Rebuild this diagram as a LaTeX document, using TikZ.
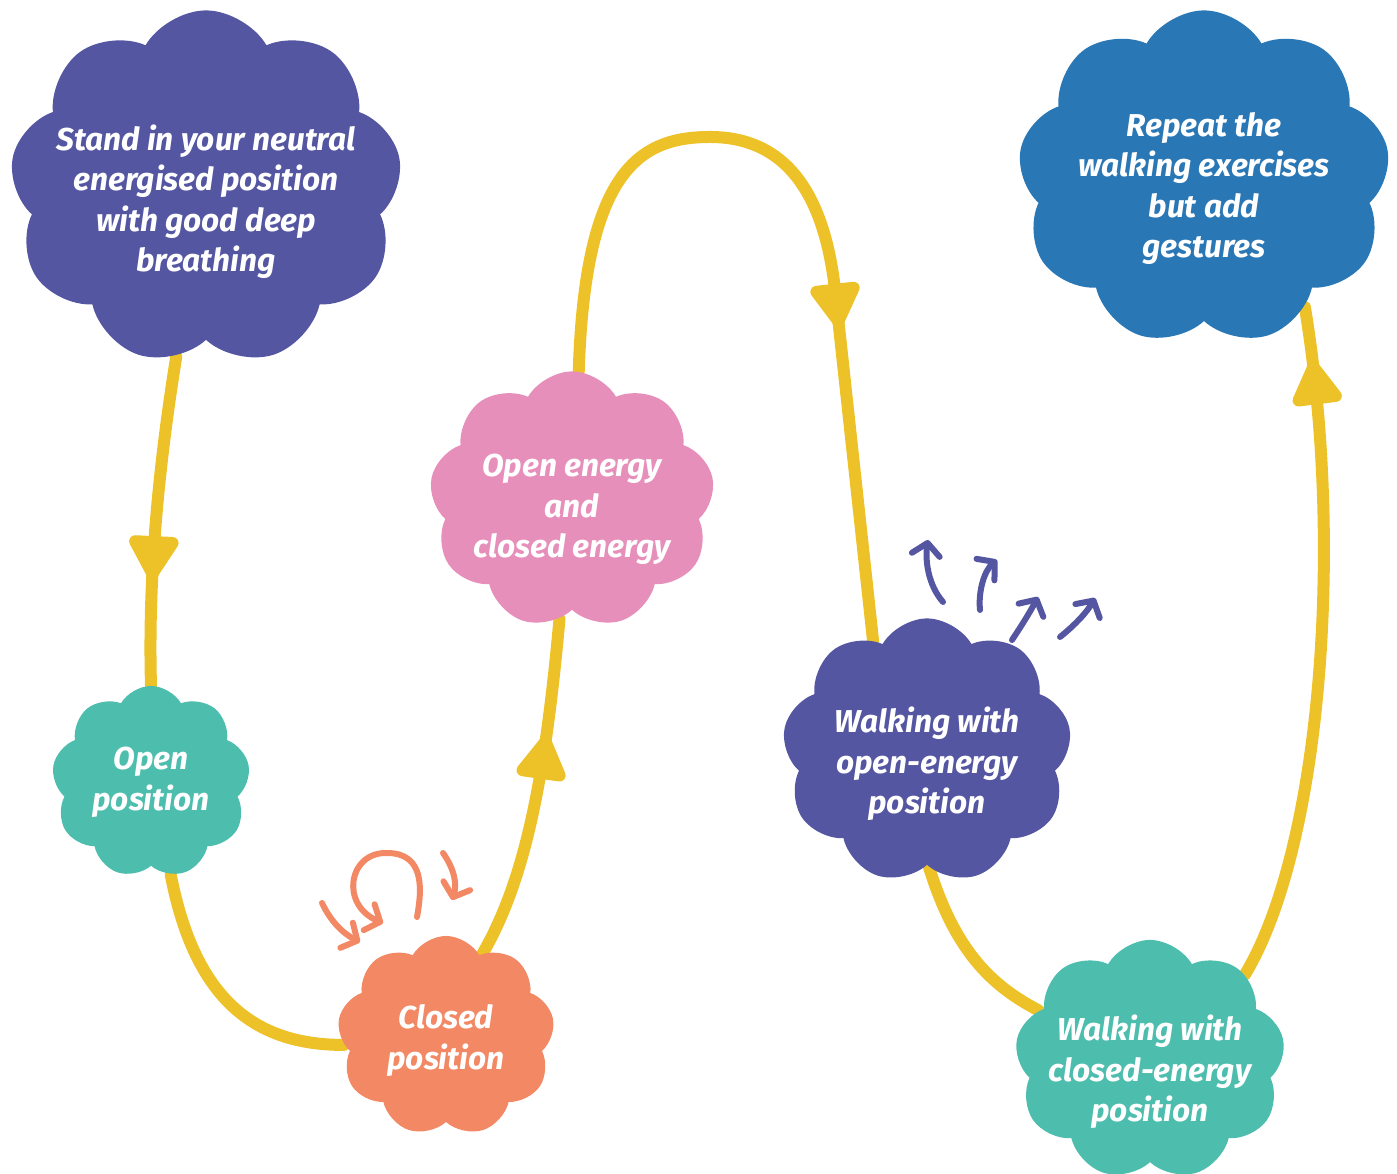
\documentclass[tikz,border=0pt]{standalone}
\usepackage{fontspec}
\setmainfont{Fira Sans}
\usepackage{tikz}
\usetikzlibrary{shapes.symbols, arrows.meta, decorations.markings, backgrounds}

\definecolor{gold}{HTML}{EDC128}
\definecolor{indigo}{HTML}{5456A2}
\definecolor{ocean}{HTML}{2A77B5}
\definecolor{rose}{HTML}{E78FBB}
\definecolor{mint}{HTML}{4DBDAE}
\definecolor{coral}{HTML}{F28864}

% lower the lines inside a cloud without changing the cloud
\newcommand{\sink}[2]{\raisebox{-#1}[\height][\depth]{\begin{tabular}{@{}c@{}}#2\end{tabular}}}

\begin{document}
\begin{tikzpicture}[
    x=0.01cm, y=-0.01cm,
    bubble/.style={cloud, cloud puffs=9, cloud puff arc=120, cloud ignores aspect, draw=none, inner xsep=-0.5cm, inner ysep=0pt, align=center, text=white, font=\bfseries\itshape\fontsize{9}{11.4}\selectfont},
    flow/.style={draw=gold, line width=0.12cm, line cap=round},
    tip at/.style={postaction={decorate}, decoration={markings, mark=at position #1 with {\arrow[gold]{Triangle[width=0.55cm, length=0.5cm, round]}}}},
    spin/.style={draw=coral, line width=0.06cm, line cap=round, -{Straight Barb[length=0.12cm, width=0.28cm, round]}},
    burst/.style={draw=indigo, line width=0.06cm, line cap=round, -{Straight Barb[length=0.12cm, width=0.28cm, round]}}
]
    \useasboundingbox (0,0) rectangle (1397,1174);

    % CLOUDS
    \node (Stand) [bubble, fill=indigo, minimum width=3.92cm, minimum height=3.55cm] at (206,188) {\sink{0.15cm}{Stand in your neutral\\energised position\\with good deep\\breathing}};
    \node (Repeat) [bubble, fill=ocean, minimum width=3.72cm, minimum height=3.35cm] at (1204,178) {\sink{0.11cm}{Repeat the\\walking exercises\\but add\\gestures}};
    \node (Energy) [bubble, fill=rose, minimum width=2.85cm, minimum height=2.57cm] at (572,500) {\sink{0.09cm}{Open energy\\and\\closed energy}};
    \node (Open) [bubble, fill=mint, minimum width=1.98cm, minimum height=1.92cm] at (151,782) {\sink{0cm}{Open\\position}};
    \node (Closed) [bubble, fill=coral, minimum width=2.17cm, minimum height=2cm] at (446,1036) {\sink{0.05cm}{Closed\\position}};
    \node (WalkOpen) [bubble, fill=indigo, minimum width=2.89cm, minimum height=2.65cm] at (927,751) {\sink{0.14cm}{Walking with\\open-energy\\position}};
    \node (WalkClosed) [bubble, fill=mint, minimum width=2.7cm, minimum height=2.4cm] at (1150,1060) {\sink{0.13cm}{Walking with\\closed-energy\\position}};

    % YELLOW PATH
    \begin{scope}[on background layer]
        \draw[flow, tip at=0.68] (Stand.-100) .. controls (158,470) and (148,580) .. (Open.north);
        \draw[flow] (Open.-78) .. controls (195,1000) and (255,1045) .. (Closed.185);
        \draw[flow, tip at=0.66] (Closed.66) .. controls (525,880) and (545,780) .. (Energy.-96);
        \draw[flow, tip at=0.64] (Energy.87) .. controls (585,170) and (640,137) .. (710,137)
            .. controls (790,137) and (825,200) .. (835,290) -- (WalkOpen.116);
        \draw[flow] (WalkOpen.-89) .. controls (955,950) and (990,985) .. (WalkClosed.156);
        \draw[flow, tip at=0.92] (WalkClosed.42) .. controls (1320,850) and (1345,550) .. (Repeat.-52);
    \end{scope}

    % LITTLE ARROWS
    \draw[spin] (322,903) .. controls (330,920) and (342,933) .. (360,942);
    \draw[spin, {Straight Barb[length=0.12cm, width=0.28cm, round]}-] (383,923) .. controls (340,905) and (348,852) .. (387,853)
        .. controls (425,853) and (422,890) .. (417,917);
    \draw[spin] (443,853) .. controls (455,870) and (457,885) .. (452,900);
    \draw[burst] (943,602) .. controls (928,585) and (925,560) .. (928,540);
    \draw[burst] (980,610) .. controls (978,590) and (985,570) .. (997,560);
    \draw[burst] (1012,640) .. controls (1022,625) and (1030,612) .. (1038,597);
    \draw[burst] (1060,637) .. controls (1075,625) and (1087,612) .. (1095,598);
\end{tikzpicture}
\end{document}
